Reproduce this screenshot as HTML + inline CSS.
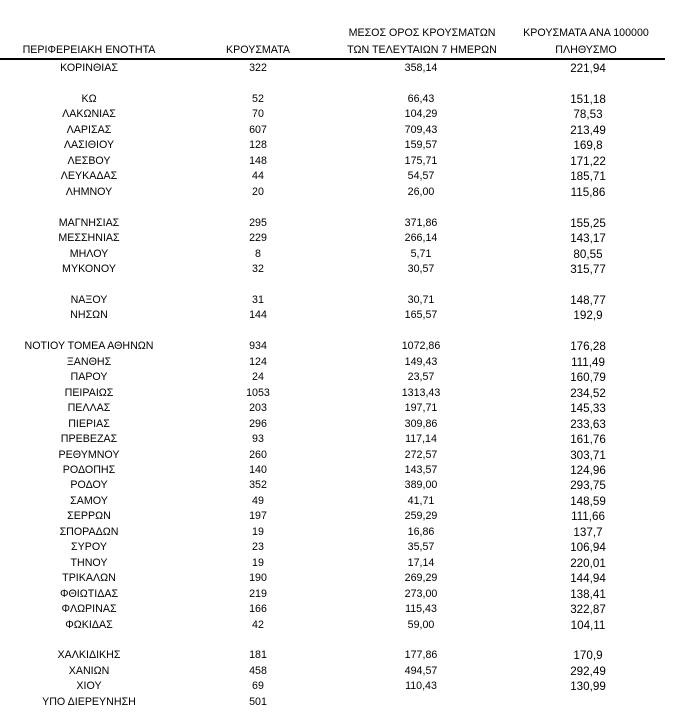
<!DOCTYPE html>
<html><head><meta charset="utf-8"><style>
body{margin:0;width:673px;height:724px;background:#fff;position:relative;overflow:hidden;font-family:"Liberation Sans",sans-serif;color:#000}
.t{position:absolute;white-space:nowrap;font-size:11px;line-height:12px;transform:translate(-50%,-50%) scaleX(.97)}
.b{font-size:12px}
.line{position:absolute;left:0;top:58px;width:665px;height:2px;background:#000}
</style></head><body>
<div class="line"></div>
<div id="c"></div>
<script>
const H=[[89,50,"ΠΕΡΙΦΕΡΕΙΑΚΗ ΕΝΟΤΗΤΑ"],[258,50,"ΚΡΟΥΣΜΑΤΑ"],[422,33,"ΜΕΣΟΣ ΟΡΟΣ ΚΡΟΥΣΜΑΤΩΝ"],[422,50,"ΤΩΝ ΤΕΛΕΥΤΑΙΩΝ 7 ΗΜΕΡΩΝ"],[586,33,"ΚΡΟΥΣΜΑΤΑ ΑΝΑ 100000"],[586,50,"ΠΛΗΘΥΣΜΟ"]];
const R=[["ΚΟΡΙΝΘΙΑΣ","322","358,14","221,94"],null,["ΚΩ","52","66,43","151,18"],["ΛΑΚΩΝΙΑΣ","70","104,29","78,53"],["ΛΑΡΙΣΑΣ","607","709,43","213,49"],["ΛΑΣΙΘΙΟΥ","128","159,57","169,8"],["ΛΕΣΒΟΥ","148","175,71","171,22"],["ΛΕΥΚΑΔΑΣ","44","54,57","185,71"],["ΛΗΜΝΟΥ","20","26,00","115,86"],null,["ΜΑΓΝΗΣΙΑΣ","295","371,86","155,25"],["ΜΕΣΣΗΝΙΑΣ","229","266,14","143,17"],["ΜΗΛΟΥ","8","5,71","80,55"],["ΜΥΚΟΝΟΥ","32","30,57","315,77"],null,["ΝΑΞΟΥ","31","30,71","148,77"],["ΝΗΣΩΝ","144","165,57","192,9"],null,["ΝΟΤΙΟΥ ΤΟΜΕΑ ΑΘΗΝΩΝ","934","1072,86","176,28"],["ΞΑΝΘΗΣ","124","149,43","111,49"],["ΠΑΡΟΥ","24","23,57","160,79"],["ΠΕΙΡΑΙΩΣ","1053","1313,43","234,52"],["ΠΕΛΛΑΣ","203","197,71","145,33"],["ΠΙΕΡΙΑΣ","296","309,86","233,63"],["ΠΡΕΒΕΖΑΣ","93","117,14","161,76"],["ΡΕΘΥΜΝΟΥ","260","272,57","303,71"],["ΡΟΔΟΠΗΣ","140","143,57","124,96"],["ΡΟΔΟΥ","352","389,00","293,75"],["ΣΑΜΟΥ","49","41,71","148,59"],["ΣΕΡΡΩΝ","197","259,29","111,66"],["ΣΠΟΡΑΔΩΝ","19","16,86","137,7"],["ΣΥΡΟΥ","23","35,57","106,94"],["ΤΗΝΟΥ","19","17,14","220,01"],["ΤΡΙΚΑΛΩΝ","190","269,29","144,94"],["ΦΘΙΩΤΙΔΑΣ","219","273,00","138,41"],["ΦΛΩΡΙΝΑΣ","166","115,43","322,87"],["ΦΩΚΙΔΑΣ","42","59,00","104,11"],null,["ΧΑΛΚΙΔΙΚΗΣ","181","177,86","170,9"],["ΧΑΝΙΩΝ","458","494,57","292,49"],["ΧΙΟΥ","69","110,43","130,99"],["ΥΠΟ ΔΙΕΡΕΥΝΗΣΗ","501","",""]];
const X=[89,258,421,588];let h="";
H.forEach(a=>h+=`<div class="t" style="left:${a[0]}px;top:${a[1]}px">${a[2]}</div>`);
R.forEach((r,i)=>{if(!r)return;const y=68+i*15.46;r.forEach((s,j)=>{if(s)h+=`<div class="t${j==3?' b':''}" style="left:${X[j]}px;top:${y}px">${s}</div>`;});});
document.getElementById("c").innerHTML=h;
</script>
</body></html>
